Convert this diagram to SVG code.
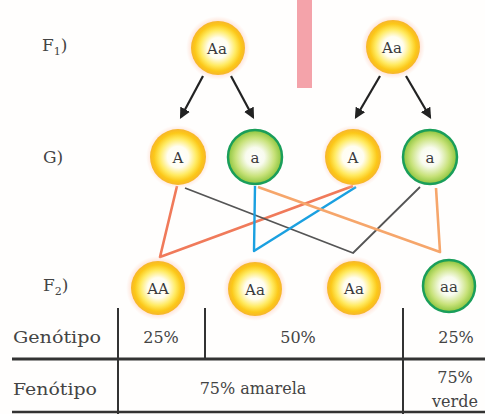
<svg xmlns="http://www.w3.org/2000/svg" width="485" height="414" viewBox="0 0 485 414">
<defs>
<radialGradient id="gy" cx="50%" cy="50%" r="50%">
<stop offset="0" stop-color="#ffffff"/>
<stop offset="0.38" stop-color="#fffdf0"/>
<stop offset="0.66" stop-color="#ffea60"/>
<stop offset="0.86" stop-color="#fcc818"/>
<stop offset="1" stop-color="#f6b52c"/>
</radialGradient>
<radialGradient id="glow" cx="50%" cy="50%" r="50%">
<stop offset="0.8" stop-color="#ffc8b0" stop-opacity="0.6"/>
<stop offset="1" stop-color="#ffd8c8" stop-opacity="0"/>
</radialGradient>
<radialGradient id="gg" cx="50%" cy="50%" r="50%">
<stop offset="0" stop-color="#ffffff"/>
<stop offset="0.35" stop-color="#f8fbee"/>
<stop offset="0.72" stop-color="#c8e27a"/>
<stop offset="1" stop-color="#8cc43c"/>
</radialGradient>
<marker id="ah" viewBox="0 0 10 10" refX="8" refY="5" markerWidth="5" markerHeight="5" orient="auto">
<path d="M0,0 L10,5 L0,10 z" fill="#222"/>
</marker>
</defs>
<style>
.lbl{font-family:"DejaVu Serif","Liberation Serif",serif;fill:#444;}
.nt{font-family:"DejaVu Serif","Liberation Serif",serif;font-size:15px;fill:#3a3a3a;text-anchor:middle;dominant-baseline:central;}
.tt{font-family:"DejaVu Serif","Liberation Serif",serif;font-size:16px;fill:#444;text-anchor:middle;dominant-baseline:central;}
.yc{fill:url(#gy);}
.gl{fill:url(#glow);}
.gc{fill:url(#gg);stroke:#1a9e5a;stroke-width:2.5;}
.arr{stroke:#222;stroke-width:2.2;fill:none;marker-end:url(#ah);}
.tl{stroke:#333;stroke-width:2;}
</style>
<rect width="485" height="414" fill="#fffefd"/>
<rect x="297" y="0" width="15" height="88" fill="#f4a3aa"/>

<text class="lbl" x="42" y="51" font-size="17">F<tspan font-size="11" dy="4">1</tspan><tspan dy="-4">)</tspan></text>
<text class="lbl" x="43" y="163" font-size="17">G)</text>
<text class="lbl" x="43" y="291" font-size="17">F<tspan font-size="11" dy="4">2</tspan><tspan dy="-4">)</tspan></text>

<g id="connectors" fill="none" stroke-linejoin="round">
<line class="arr" x1="203" y1="76" x2="181" y2="117"/>
<line class="arr" x1="231" y1="76" x2="253" y2="117"/>
<line class="arr" x1="380" y1="76" x2="356" y2="117"/>
<line class="arr" x1="406" y1="76" x2="430" y2="117"/>
<polyline points="177,186 160,257 353,186" stroke="#f07a5a" stroke-width="2.6"/>
<polyline points="185,188 353,253 420,187" stroke="#555" stroke-width="1.8"/>
<polyline points="255,186 254,251 356,187" stroke="#1aa0e0" stroke-width="2.4"/>
<polyline points="258,187 440,252 436,188" stroke="#f6a66b" stroke-width="2.6"/>
</g>

<g id="p1"><circle class="gl" cx="218" cy="48" r="32"/><circle class="yc" cx="218" cy="48" r="27"/><text class="nt" x="217" y="49">Aa</text></g>
<g id="p2"><circle class="gl" cx="393" cy="47" r="32"/><circle class="yc" cx="393" cy="47" r="27"/><text class="nt" x="392" y="48">Aa</text></g>

<g id="g1"><circle class="gl" cx="178" cy="157" r="32"/><circle class="yc" cx="178" cy="157" r="28"/><text class="nt" x="178" y="158">A</text></g>
<g id="g2"><circle class="gc" cx="255" cy="157" r="27"/><text class="nt" x="255" y="158">a</text></g>
<g id="g3"><circle class="gl" cx="353" cy="157" r="32"/><circle class="yc" cx="353" cy="157" r="28"/><text class="nt" x="353" y="158">A</text></g>
<g id="g4"><circle class="gc" cx="430" cy="157" r="27"/><text class="nt" x="430" y="158">a</text></g>

<g id="f1"><circle class="gl" cx="158" cy="288" r="32"/><circle class="yc" cx="158" cy="288" r="27"/><text class="nt" x="158" y="289">AA</text></g>
<g id="f2"><circle class="gl" cx="255" cy="289" r="32"/><circle class="yc" cx="255" cy="289" r="27"/><text class="nt" x="255" y="290">Aa</text></g>
<g id="f3"><circle class="gl" cx="354" cy="288" r="32"/><circle class="yc" cx="354" cy="288" r="27"/><text class="nt" x="354" y="289">Aa</text></g>
<g id="f4"><circle class="gc" cx="449" cy="286" r="26"/><text class="nt" x="449" y="287">aa</text></g>

<g id="table">
<line class="tl" x1="118" y1="308" x2="118" y2="414"/>
<line class="tl" x1="205" y1="308" x2="205" y2="359"/>
<line class="tl" x1="403" y1="308" x2="403" y2="414"/>
<line x1="12" y1="359" x2="485" y2="359" stroke="#333" stroke-width="3"/>
<line x1="12" y1="412" x2="485" y2="412" stroke="#333" stroke-width="2.5"/>
<text class="lbl" x="13" y="343" font-size="17" textLength="88" lengthAdjust="spacingAndGlyphs">Genótipo</text>
<text class="lbl" x="13" y="395" font-size="17" textLength="84" lengthAdjust="spacingAndGlyphs">Fenótipo</text>
<text class="tt" x="161" y="337">25%</text>
<text class="tt" x="298" y="337">50%</text>
<text class="tt" x="456" y="337">25%</text>
<text class="tt" x="253" y="388">75% amarela</text>
<text class="tt" x="455" y="377">75%</text>
<text class="tt" x="455" y="401">verde</text>
</g>
</svg>
